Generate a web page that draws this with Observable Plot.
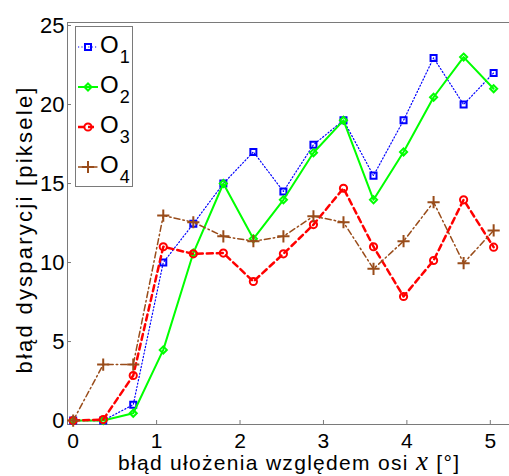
<!DOCTYPE html>
<html><head><meta charset="utf-8">
<script src="https://cdn.jsdelivr.net/npm/d3@7"></script>
<script src="https://cdn.jsdelivr.net/npm/@observablehq/plot@0.6"></script>
<style>
body{margin:0;background:#fff;}
#wrap{position:relative;width:509px;height:476px;overflow:hidden;}
#wrap svg.legend{position:absolute;left:0;top:0;}
</style></head><body><div id="wrap"></div>
<script>
// ---- data ----
const xValues = [0, 0.36, 0.72, 1.08, 1.44, 1.80, 2.16, 2.52, 2.88, 3.24, 3.60, 3.96, 4.32, 4.68, 5.04];
const o1 = [0, 0, 1.0, 10.0, 12.45, 15.0, 17.0, 14.5, 17.45, 19.0, 15.5, 19.0, 22.95, 20.0, 22.0];
const o2 = [0, 0, 0.46, 4.47, 10.6, 15.0, 11.5, 13.97, 16.95, 19.0, 13.97, 17.0, 20.46, 23.0, 21.0];
const o3 = [0, 0.06, 2.85, 11.0, 10.55, 10.6, 8.8, 10.55, 12.4, 14.7, 11.0, 7.85, 10.13, 13.97, 10.97];
const o4 = [0, 3.54, 3.54, 12.97, 12.55, 11.66, 11.35, 11.66, 12.93, 12.55, 9.6, 11.35, 13.82, 9.96, 12.03];
const seriesNames = ["O1", "O2", "O3", "O4"];
const seriesValues = [o1, o2, o3, o4];
const xTicks = [0, 1, 2, 3, 4, 5];
const yTicks = [0, 5, 10, 15, 20, 25];
const xLabelText = "błąd ułożenia względem osi x [°]";
const yLabelText = "błąd dysparycji [piksele]";

// ---- styles ----
const styles = {
  O1: {color: "#0000ff", dash: "1.2,2.2", width: 1.2, symbol: "square", r: 3.4, sw: 2},
  O2: {color: "#00ff00", dash: null, width: 2, symbol: "diamond2", r: 3.2, sw: 2},
  O3: {color: "#ff0000", dash: "6,4", width: 2.5, symbol: "circle", r: 3.6, sw: 2},
  O4: {color: "#994c1a", dash: "6,3,1.5,3", width: 1.5, symbol: "plus", r: 4, sw: 2}
};

const rows = seriesNames.flatMap((s, i) => xValues.map((x, j) => ({series: s, x, y: seriesValues[i][j]})));

const font = "'Liberation Sans', Arial, sans-serif";
const axisGray = "#7a7a7a";

const marks = [
  Plot.frame({stroke: axisGray}),
  Plot.axisX(xTicks, {tickSize: -4, tickPadding: 13, stroke: axisGray, fill: "black", fontSize: 21, label: null}),
  Plot.axisY(yTicks, {tickSize: -4, tickPadding: 7, stroke: axisGray, fill: "black", fontSize: 22, label: null})
];
for (const s of seriesNames) {
  const st = styles[s];
  const data = rows.filter(d => d.series === s);
  marks.push(Plot.line(data, {x: "x", y: "y", stroke: st.color, strokeWidth: st.width, strokeDasharray: st.dash}));
  marks.push(Plot.dot(data, {x: "x", y: "y", symbol: () => st.symbol, r: st.r, stroke: st.color, strokeWidth: st.sw, fill: "none"}));
}
marks.push(Plot.text([xLabelText], {text: d => d, frameAnchor: "bottom", textAnchor: "middle", lineAnchor: "middle", dy: 39, fontSize: 21, fill: "black"}));
marks.push(Plot.text([yLabelText], {text: d => d, frameAnchor: "left", textAnchor: "middle", rotate: -90, lineAnchor: "middle", dx: -43, dy: 7, fontSize: 22, fill: "black"}));

const chart = Plot.plot({
  width: 509, height: 476,
  marginLeft: 67, marginRight: 0, marginTop: 22, marginBottom: 52,
  style: {fontFamily: font, background: "white", color: "black", overflow: "visible"},
  x: {type: "linear", domain: [-0.068, 5.23]},
  y: {type: "linear", domain: [-0.25, 25.19]},
  symbol: {type: "identity"},
  marks
});
document.getElementById("wrap").appendChild(chart);

// x label with italic math x
d3.select(chart).selectAll("text").filter(function() { return this.textContent === xLabelText; }).each(function() {
  const t = d3.select(this);
  t.text(null).attr("textLength", 341).attr("lengthAdjust", "spacing");
  t.append("tspan").text("błąd ułożenia względem osi ");
  t.append("tspan").attr("font-family", "'Liberation Serif', 'Times New Roman', serif").attr("font-style", "italic").attr("font-size", 27).text("x");
  t.append("tspan").text(" [°]");
});
d3.select(chart).selectAll("text").filter(function() { return this.textContent === yLabelText; })
  .attr("textLength", 286).attr("lengthAdjust", "spacing");

// legend overlay
const symMap = {square: d3.symbolSquare, diamond2: d3.symbolDiamond2, circle: d3.symbolCircle, plus: d3.symbolPlus};
const lg = d3.select("#wrap").append("svg").attr("class", "legend").attr("width", 509).attr("height", 476);
lg.append("rect").attr("x", 75.5).attr("y", 26.5).attr("width", 57).attr("height", 160).attr("fill", "white").attr("stroke", axisGray);
seriesNames.forEach((s, i) => {
  const st = styles[s];
  const cy = 47 + 40 * i;
  lg.append("line").attr("x1", 78).attr("x2", 98).attr("y1", cy).attr("y2", cy)
    .attr("stroke", st.color).attr("stroke-width", st.width).attr("stroke-dasharray", st.dash);
  lg.append("path").attr("transform", `translate(88,${cy})`)
    .attr("d", d3.symbol(symMap[st.symbol], Math.PI * st.r * st.r)())
    .attr("fill", "none").attr("stroke", st.color).attr("stroke-width", st.sw);
  const t = lg.append("text").attr("x", 100).attr("y", cy + 5.5).attr("font-family", font).attr("font-size", 24).attr("fill", "black");
  t.append("tspan").text(s[0]);
  t.append("tspan").attr("font-size", 18).attr("dy", 10).attr("dx", 1).text(s.slice(1));
});
</script></body></html>
